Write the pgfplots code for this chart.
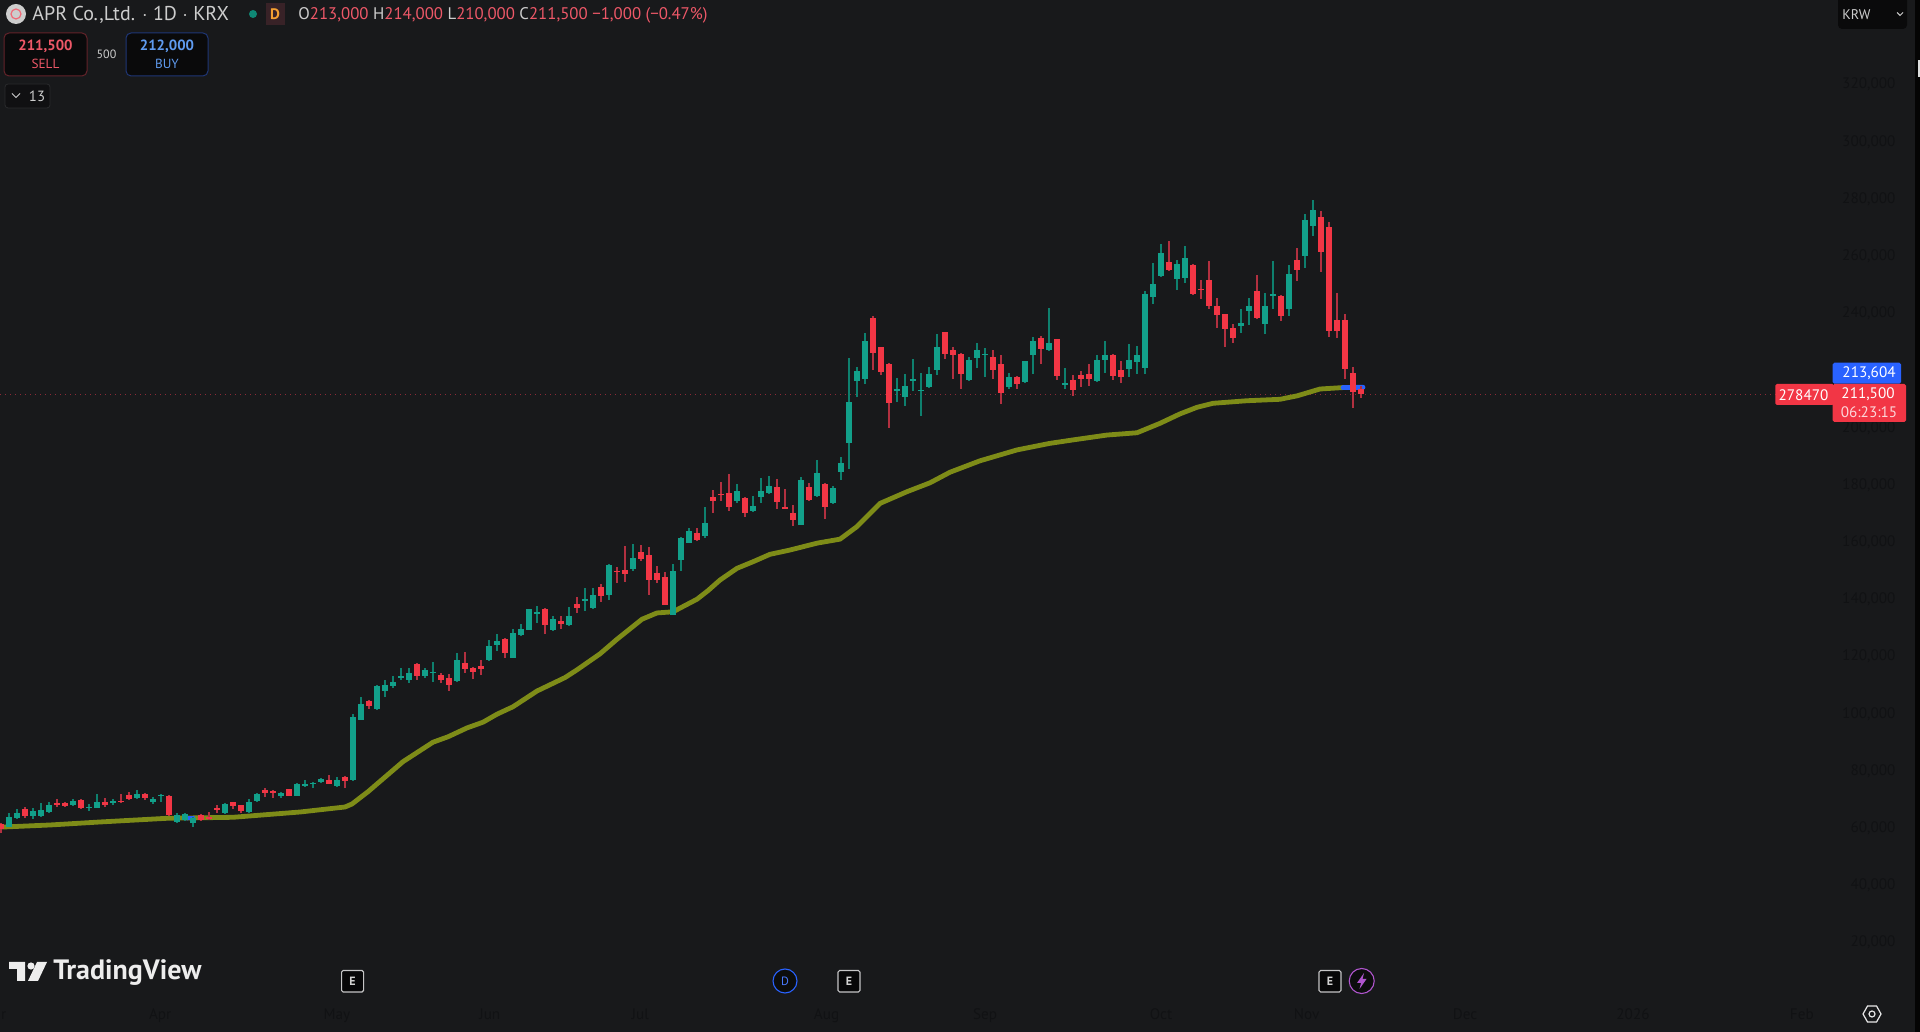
\documentclass[border=0pt]{standalone}
\usepackage{pgfplots}
\usepackage{pgfplotstable}
\usepackage{fontspec}
\setmainfont{PT Sans}
\pgfplotsset{compat=1.18}
\definecolor{bg}{RGB}{24,25,27}
\definecolor{upc}{RGB}{18,160,138}
\definecolor{dnc}{RGB}{242,54,69}
\definecolor{upw}{RGB}{14,128,110}
\definecolor{dnw}{RGB}{178,48,64}
\definecolor{ema}{RGB}{126,140,24}
\definecolor{emab}{RGB}{41,98,255}
\definecolor{axt}{RGB}{17,18,20}
\definecolor{hdr}{RGB}{205,205,205}
\definecolor{val}{RGB}{238,88,104}
\definecolor{purp}{RGB}{175,85,205}
\definecolor{orng}{RGB}{245,160,50}
\definecolor{lblue}{RGB}{95,155,240}

% x top bot high low  (teal candles: close=top, open=bot)
\pgfplotstableread{
x top bot high low
0 63500 60000 64600 59700
1 64900 63000 66000 62500
3 65500 63700 66600 62800
4 65800 63800 68100 63500
5 67600 65100 68700 64900
8 69100 67600 69700 67300
10 67000 66500 67900 65600
11 68600 66600 71500 66400
13 68800 68600 69500 67700
16 71300 70100 72700 69800
18 69800 68500 70400 67800
19 71200 70900 71300 68500
21 63900 61500 64900 61300
22 64300 62300 64900 62000
23 63000 61400 63500 60000
27 67800 64800 68300 64500
30 68500 65100 69700 64900
31 71500 69000 71700 68700
34 71700 70800 72100 70100
36 74800 70800 75200 70600
37 75000 74400 76200 74000
38 75200 75000 75700 73600
39 76500 75600 77000 75100
41 76300 74300 77200 74000
43 98200 76200 99300 76100
44 102900 97300 105400 97200
46 109200 101100 109400 100900
47 109400 107400 111100 105200
48 110400 109200 112800 108300
49 112700 112000 115600 111300
50 113700 111300 115500 110300
52 114900 112800 115600 112100
53 114100 113800 117400 110700
56 118100 110800 120600 110600
60 123300 118100 125200 118000
61 124800 123400 127300 121400
63 127800 119000 129000 118800
64 129000 127000 130700 126800
65 136000 128900 136200 128600
66 135000 134200 137000 131300
68 132500 128700 133500 128300
70 133600 130600 136800 130100
72 139700 139000 143500 135500
73 141000 136300 143400 136100
75 151600 141000 151900 139200
78 153900 150000 158800 149300
83 149400 134100 151800 133900
84 161000 153200 161400 149500
85 163200 159300 164300 159000
87 166200 161700 171700 161000
91 177500 174000 179800 173300
93 172100 170200 175700 170000
94 177500 175100 181900 173000
95 179100 176500 182600 176300
99 181100 165600 182200 165500
101 183500 175600 188200 175400
103 178400 173100 179100 172900
104 187100 184100 189300 181200
105 208300 194200 223700 185000
106 219300 215900 220800 210300
107 229700 216500 232700 214800
111 213100 212400 216700 208600
112 214200 210100 218300 207100
113 216600 215900 223600 212200
114 212800 212400 218600 203600
115 218300 213600 220800 213200
116 227700 219500 232200 217800
120 223100 216000 224100 215800
121 226800 224000 229200 220500
122 225200 225000 227200 217200
125 217300 213600 218500 213100
127 222800 215600 222900 215100
128 229700 225000 231200 218300
130 229100 226500 241200 226300
132 215100 214500 220200 213000
136 223300 215900 224800 215300
137 224800 223000 229700 218600
140 223300 220000 228700 217300
141 224800 222600 228200 218300
142 246100 220500 247300 218300
143 249600 245100 257200 242700
144 260600 252400 263700 252200
146 256700 251500 258200 247600
147 258700 251800 263100 250000
154 236200 234900 241000 232700
155 242100 240400 244700 235300
157 242100 235600 246600 232200
158 246100 245600 257600 241100
160 253200 240900 256200 238500
162 272100 259400 274200 255400
163 275600 270000 279100 266500
}\upT

% x top bot high low  (red candles: open=top, close=bot)
\pgfplotstableread{
x top bot high low
-1 60900 59000 61100 57900
2 66200 63600 67000 63000
6 68300 67700 69500 67000
7 68400 67300 68700 67000
9 69300 66600 69500 66200
12 68700 67400 70000 66900
14 69100 68700 71400 68100
15 71000 69700 72000 69400
17 71500 70100 71900 69400
20 70800 64200 71000 63700
24 64200 62300 64400 62100
25 63200 63000 65100 62300
26 66500 65800 67600 64600
28 68500 67300 68700 66000
29 67400 65600 67700 64600
32 72900 71700 73400 70500
33 72300 72100 72800 70000
35 73000 70800 73300 70600
40 76300 75000 77900 74800
42 77200 76100 77800 73400
45 103900 102200 104300 101100
51 116900 112800 117100 111300
54 112900 111100 113600 110200
55 111800 109500 113200 107500
57 117200 115000 121000 113800
58 115300 113900 115700 111700
59 116200 115000 118100 113000
62 125500 120600 125800 119000
67 136200 130600 136400 127300
69 132000 130700 133600 129100
71 137800 136400 140200 134700
74 143900 140600 144700 138500
76 149400 149100 150900 145100
77 149600 148300 158200 145400
79 156000 153700 158600 152800
80 154800 146200 157600 140900
81 148700 146200 151200 145300
82 147200 137500 148900 137400
86 162800 160200 164400 160000
88 175100 173700 177700 169500
89 176400 175900 180600 174000
90 176600 171700 183200 170400
92 174900 169700 175400 168200
96 178600 173500 181500 170900
97 171700 171400 178200 170900
98 169500 167200 172300 165200
100 178900 174100 180000 173700
102 179800 171600 180000 167700
108 237800 225500 238600 219700
109 227700 219100 227800 217900
110 221700 208100 222200 199400
117 232800 225400 233100 223600
118 226800 225000 227600 216500
119 225200 218400 225500 213000
123 224200 219500 226800 216500
124 221700 211600 224900 207600
126 217300 214900 217700 213100
129 230700 227100 231500 221700
131 230400 217600 230600 216300
133 216200 212500 217900 210700
134 217800 216500 219200 213700
135 218300 216400 221700 214200
138 224800 217600 225100 216300
139 219700 217100 222800 215100
145 257500 254500 264600 254300
148 256200 246200 256700 245800
149 248100 247500 251100 244400
150 251100 242000 257600 240900
151 242000 238900 244700 234200
152 239100 234100 239300 227700
153 234300 231000 235600 229200
156 247300 237800 252900 237400
159 245600 238400 245900 236700
161 258200 254500 262200 250800
164 273100 260900 275200 254000
165 269700 233400 271300 231200
166 237100 233400 246600 230700
167 237100 220000 239100 216500
168 218700 212100 220700 206400
169 213000 211200 214000 210000
}\dnT

\pgfplotstableread{
x v
-1.125 59800
5.125 60560
11.375 61610
19.75 62900
28 63250
36.375 65100
42 66850
42.875 67900
44.875 72200
46 74900
49.25 82700
53 89500
54.875 91400
57.25 94500
59.25 96500
61 99300
63 101900
66 107400
69.5 112100
71 114800
73.875 120400
76 125500
79.125 132500
81 134700
83 135100
86 139500
87.375 142500
88.875 146200
91 150300
93 152600
95.125 155200
97.625 156700
101 159100
103.875 160500
106 164900
108.875 173000
112.25 177100
115.125 180200
117.625 183900
121.375 187900
126 191700
130.125 194000
133 195200
137.25 196900
141 197700
143.875 201000
146.375 204300
148.5 206600
150.5 208000
154.75 208900
158.875 209400
161 210600
163.875 213000
166.75 213500
}\emaT

\pgfplotstableread{
x v
166.75 213500
169.25 213604
}\emaEnd

\pgfplotstableread{
x v
22.2 62900
23.2 63000
}\emaMid

\pgfplotsset{
  candle/.style 2 args={draw=none, no markers, forget plot,
    error bars/.cd, y dir=both, y explicit, error mark=none,
    error bar style={line width=#1, draw=#2, solid}},
}
\newcommand{\wicks}[2]{%
  \addplot[candle={0.55pt}{#2}] table[x=x,
    y expr=0.5*(\thisrow{top}+\thisrow{bot}),
    y error plus expr=\thisrow{high}-0.5*(\thisrow{top}+\thisrow{bot}),
    y error minus expr=0.5*(\thisrow{top}+\thisrow{bot})-\thisrow{low}] {#1};}
\newcommand{\bodies}[2]{%
  \addplot[candle={3pt}{#2}] table[x=x,
    y expr=0.5*(\thisrow{top}+\thisrow{bot}),
    y error plus expr=0.5*(\thisrow{top}-\thisrow{bot}),
    y error minus expr=0.5*(\thisrow{top}-\thisrow{bot})] {#1};}

\begin{document}
\begin{tikzpicture}
\fill[bg] (0,0) rectangle (960pt,516pt);
\begin{axis}[
  at={(0,0)}, anchor=south west,
  scale only axis, width=960pt, height=516pt,
  xmin=-1.125, xmax=238.875,
  ymin=-11821, ymax=349021,
  axis line style={draw=none},
  tick style={draw=none},
  ytick={20000,40000,...,320000},
  scaled y ticks=false,
  yticklabel pos=right,
  yticklabel style={anchor=east, xshift=-8.8pt, yshift=-0.8pt, font=\fontsize{7.6}{8}\selectfont, text=axt,
    /pgf/number format/.cd, fixed, 1000 sep={,}, assume math mode=true},
  xtick={18.9,41,60.1,78.9,102.2,122,144,162.2,182,203,224.1},
  xticklabels={Apr,May,Jun,Jul,Aug,Sep,Oct,Nov,Dec,2026,Feb},
  xticklabel style={yshift=15pt, font=\fontsize{7.6}{8}\selectfont, text=axt},
  clip=true,
]
\addplot[draw=dnw!75!bg, line width=0.5pt, dotted, forget plot] coordinates {(-1.125,211200) (220.8,211200)};
\addplot[ema, line width=2.4pt, line join=round, forget plot] table[x=x,y=v] {\emaT};
\addplot[emab, line width=2.4pt, line join=round, line cap=round, forget plot] table[x=x,y=v] {\emaEnd};
\addplot[emab, line width=2pt, forget plot] table[x=x,y=v] {\emaMid};
\wicks{\upT}{upw}
\wicks{\dnT}{dnw}
\bodies{\upT}{upc}
\bodies{\dnT}{dnc}
\end{axis}

\begin{scope}[x=0.5pt,y=-0.5pt,yshift=516pt]
  % right edge strip
  \fill[black!85!bg] (1915,0) rectangle (1920,1032);
  \fill[white!85!bg] (1918,60) rectangle (1920,77);
  % header
  \fill[hdr] (16,14) circle (10);
  \draw[val!90!white, line width=0.6pt] (16,14) circle (5);
  \node[anchor=west, inner sep=0, text=hdr, font=\fontsize{10}{11}\selectfont] at (32,15) {APR Co.,Ltd. $\cdot$ 1D $\cdot$ KRX};
  \fill[upc!85!black] (253,14) circle (4);
  \fill[val!15!bg] (266,3) rectangle (285,25);
  \node[text=orng, inner sep=0, font=\fontsize{7.6}{9}\selectfont\bfseries] at (275,14.5) {D};
  \node[anchor=west, inner sep=0, font=\fontsize{8.4}{9}\selectfont, text=val] at (298,15)
    {\textcolor{hdr}{O}213,000 \textcolor{hdr}{H}214,000 \textcolor{hdr}{L}210,000 \textcolor{hdr}{C}211,500 −1,000 (−0.47\%)};
  % buttons
  \draw[fill=black!60!bg, draw=dnc!35!bg, line width=0.5pt, rounded corners=2.5pt] (4,33) rectangle (87,76);
  \draw[fill=black!60!bg, draw=emab!40!bg, line width=0.5pt, rounded corners=2.5pt] (126,33) rectangle (208,76);
  \node[text=val, inner sep=0, font=\fontsize{7.4}{8}\selectfont\bfseries] at (45.5,46.5) {211,500};
  \node[text=val, inner sep=0, font=\fontsize{6.6}{8}\selectfont] at (45.5,63.5) {SELL};
  \node[text=hdr, inner sep=0, font=\fontsize{6}{7}\selectfont] at (106.5,54) {500};
  \node[text=lblue, inner sep=0, font=\fontsize{7.4}{8}\selectfont\bfseries] at (167,46.5) {212,000};
  \node[text=lblue, inner sep=0, font=\fontsize{6.6}{8}\selectfont] at (167,63.5) {BUY};
  \draw[fill=black!35!bg, draw=white!8!bg, line width=0.4pt, rounded corners=1.5pt] (5,84) rectangle (50,108);
  \draw[hdr, line width=0.5pt] (12,93.5) -- (16,97.5) -- (20,93.5);
  \node[text=hdr, inner sep=0, font=\fontsize{7.4}{8}\selectfont] at (37,96) {13};
  % KRW box
  \fill[black!60!bg, rounded corners=2pt] (1838,-4) rectangle (1907,29);
  \node[anchor=west, text=hdr, inner sep=0, font=\fontsize{7}{8}\selectfont] at (1842,14.5) {KRW};
  \draw[hdr, line width=0.5pt] (1897,12.5) -- (1900,15.5) -- (1903,12.5);
  % price labels
  \fill[emab, rounded corners=0.8pt] (1832.7,362.7) rectangle (1901,383.7);
  \node[text=white, inner sep=0, font=\fontsize{7.6}{8}\selectfont] at (1869,373.7) {213,604};
  \fill[dnc, rounded corners=0.8pt] (1775.3,384) rectangle (1834,405);
  \node[text=white, inner sep=0, font=\fontsize{7.6}{8}\selectfont] at (1803.5,395) {278470};
  \fill[dnc, rounded corners=0.8pt] (1832.7,384) rectangle (1906,422);
  \node[text=white, inner sep=0, font=\fontsize{7.6}{8}\selectfont] at (1868,394.5) {211,500};
  \node[text=white!80!dnc, inner sep=0, font=\fontsize{7.6}{8}\selectfont] at (1869,412) {06:23:15};
  % clipped first month label
  \node[text=axt, inner sep=0, font=\fontsize{7.6}{8}\selectfont] at (-6,1014) {Mar};
  % TradingView logo
  \fill[white!92!bg] (9,962) -- (25,962) -- (25,981) -- (17,981) -- (17,969) -- (9,969) -- cycle;
  \fill[white!92!bg] (31,966) circle (3.6);
  \fill[white!92!bg] (37,962) -- (47,962) -- (38,981) -- (28,981) -- cycle;
  \node[anchor=west, inner sep=0, text=white!92!bg, font=\fontsize{14}{15}\selectfont\bfseries] at (53,973) {TradingView};
  % event markers
  \foreach \ex in {352.6,849,1330}{
    \draw[fill=black!70!bg, draw=white!75!bg, line width=0.55pt, rounded corners=0.8pt] (\ex-11,970.5) rectangle (\ex+11,992);
    \node[text=white!80!bg, inner sep=0, font=\fontsize{6}{7}\selectfont\bfseries] at (\ex,981.5) {E};
  }
  \draw[fill=black!50!bg, draw=emab, line width=0.55pt] (785,981) circle (12);
  \node[text=emab!85!white, inner sep=0, font=\fontsize{6}{7}\selectfont] at (785,981.5) {D};
  \draw[fill=black!50!bg, draw=purp, line width=0.55pt] (1361.7,981) circle (12.5);
  \fill[purp] (1364,973) -- (1357,983) -- (1361,983) -- (1359.5,989) -- (1366.5,979) -- (1362.5,979) -- cycle;
  % settings
  \draw[white!90!bg, line width=0.6pt] (1863,1014) -- (1867.5,1006) -- (1876.5,1006) -- (1881,1014) -- (1876.5,1022) -- (1867.5,1022) -- cycle;
  \draw[white!90!bg, line width=0.6pt] (1872,1014) circle (3);
\end{scope}
\pgfresetboundingbox
\path[use as bounding box] (0,0) rectangle (960pt,516pt);
\end{tikzpicture}
\end{document}
